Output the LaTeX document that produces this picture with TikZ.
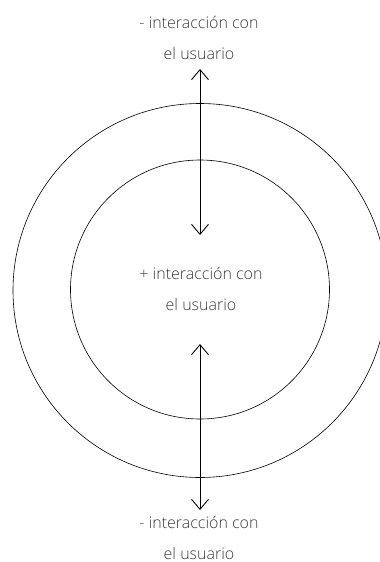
\documentclass[tikz,border=0pt]{standalone}
\usepackage{fontspec}
\setmainfont{Open Sans}[UprightFont=* Light]
\usetikzlibrary{arrows.meta}
\definecolor{txtgray}{HTML}{3C3C3C}
\tikzset{
  ring/.style={circle, draw=black, line width=0.6pt, inner sep=0pt},
  lbl/.style={text=txtgray, font=\fontsize{16}{31}\selectfont, align=center, inner sep=0pt},
  dblarrow/.style={line width=0.9pt, {Straight Barb[length=10pt,width=17pt]}-{Straight Barb[length=10pt,width=17pt]}}
}
\begin{document}
\begin{tikzpicture}[x=1pt,y=-1pt]
\useasboundingbox (0,0) rectangle (380,562);
\node[ring, minimum size=374pt] (outer) at (200,290.5) {};
\node[ring, minimum size=259pt] (inner) at (200,289.5) {};
\node[lbl] (toplbl) at (199,38) {- interacción con\\el usuario};
\node[lbl] (midlbl) at (201,289) {+ interacción con\\el usuario};
\node[lbl] (botlbl) at (199,538) {- interacción con\\el usuario};
\coordinate (t1) at (200,69);
\coordinate (t2) at (200,235);
\coordinate (b1) at (200,344);
\coordinate (b2) at (200,510);
\draw[dblarrow] (t1) -- (t2);
\draw[dblarrow] (b1) -- (b2);
\end{tikzpicture}
\end{document}
